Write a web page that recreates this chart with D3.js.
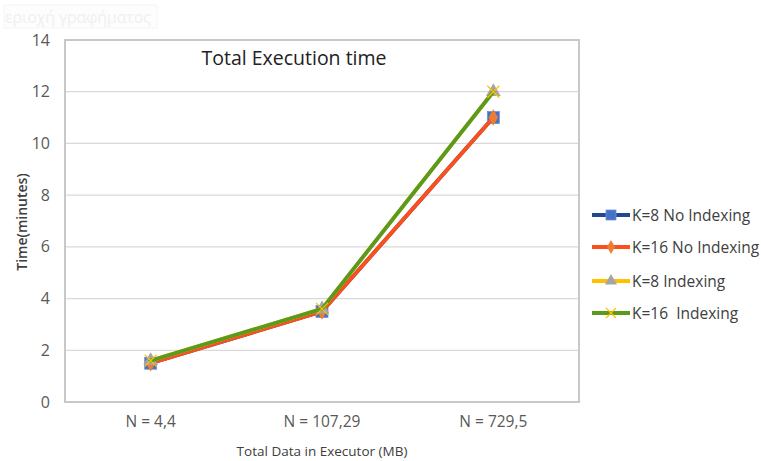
<!DOCTYPE html>
<html>
<head>
<meta charset="utf-8">
<script src="https://cdn.jsdelivr.net/npm/d3@7"></script>
<style>
  html, body { margin: 0; padding: 0; background: #fff; }
  svg { display: block; font-family: "Open Sans", "Liberation Sans", sans-serif; }
  .legend-label { white-space: pre; }
</style>
</head>
<body>
<svg id="chart" width="761" height="461"></svg>
<script>
// Dataset sizes on the x axis
const categories = ["N = 4,4", "N = 107,29", "N = 729,5"];
// Execution time in minutes per configuration
const k8NoIndexing  = [1.5, 3.5, 11];
const k16NoIndexing = [1.5, 3.5, 11];
const k8Indexing    = [1.6, 3.6, 12];
const k16Indexing   = [1.6, 3.6, 12];
const yTicks = [0, 2, 4, 6, 8, 10, 12, 14];
const seriesNames = ["K=8 No Indexing", "K=16 No Indexing", "K=8 Indexing", "K=16  Indexing"];

const series = [
  { name: seriesNames[0], values: k8NoIndexing,  line: "#24488f", marker: "square",   mfill: "#4472c4" },
  { name: seriesNames[1], values: k16NoIndexing, line: "#fb4f1c", marker: "diamond",  mfill: "#ed7d31" },
  { name: seriesNames[2], values: k8Indexing,    line: "#ffc000", marker: "triangle", mfill: "#a5a5a5" },
  { name: seriesNames[3], values: k16Indexing,   line: "#5a9a1e", marker: "cross",    mfill: "#ffc000" }
];

const svg = d3.select("#chart");
const plot = { left: 65, right: 579, top: 40, bottom: 402 };

const x = d3.scaleBand().domain(categories).range([plot.left, plot.right]);
const y = d3.scaleLinear().domain([0, 14]).range([plot.bottom, plot.top]);
const cx = c => x(c) + x.bandwidth() / 2;

// faint chart-area hint in the corner
svg.append("rect").attr("x", 4).attr("y", 5).attr("width", 153).attr("height", 23)
  .attr("fill", "#fdfdfd").attr("stroke", "#f5f5f5");
svg.append("text").attr("x", 5).attr("y", 23).attr("font-size", 16)
  .attr("textLength", 146).attr("fill", "#f0f0f0").text("εριοχή γραφήματος");

// horizontal gridlines
svg.append("g").selectAll("line").data(yTicks).join("line")
  .attr("x1", plot.left).attr("x2", plot.right)
  .attr("y1", d => y(d)).attr("y2", d => y(d))
  .attr("stroke", "#d9d9d9").attr("stroke-width", 1.3);

// plot border
svg.append("rect")
  .attr("x", plot.left).attr("y", plot.top)
  .attr("width", plot.right - plot.left).attr("height", plot.bottom - plot.top)
  .attr("fill", "none").attr("stroke", "#c8c8c8").attr("stroke-width", 2);

// y axis labels
const yAxis = d3.axisLeft(y).tickValues(yTicks).tickSize(0).tickPadding(15);
const gy = svg.append("g").attr("transform", `translate(${plot.left},0)`).call(yAxis);
gy.select(".domain").remove();
gy.selectAll("text").attr("font-size", 16).attr("fill", "#595959")
  .attr("font-family", "'Open Sans', sans-serif");

// x axis labels
const xAxis = d3.axisBottom(x).tickSize(0).tickPadding(14);
const gx = svg.append("g").attr("transform", `translate(0,${plot.bottom})`).call(xAxis);
gx.select(".domain").remove();
gx.selectAll("text").attr("font-size", 15.5).attr("fill", "#595959")
  .attr("font-family", "'Open Sans', sans-serif");

// titles
svg.append("text").attr("x", 294).attr("y", 65).attr("text-anchor", "middle")
  .attr("font-size", 19.5).attr("fill", "#222").text("Total Execution time");
svg.append("text").attr("x", 322).attr("y", 456).attr("text-anchor", "middle")
  .attr("font-size", 13.5).attr("fill", "#404040").text("Total Data in Executor (MB)");
svg.append("text").attr("transform", "translate(27,222) rotate(-90)")
  .attr("text-anchor", "middle").attr("font-size", 14).attr("font-weight", 600)
  .attr("fill", "#404040").text("Time(minutes)");

function drawMarker(g, type, fill, size) {
  const s = size;
  if (type === "square") {
    g.append("rect").attr("x", -s).attr("y", -s).attr("width", 2 * s).attr("height", 2 * s)
      .attr("fill", fill).attr("stroke", "#6f93d6").attr("stroke-width", 0.8);
  } else if (type === "diamond") {
    g.append("path").attr("d", d3.symbol(d3.symbolDiamond, s * s * 2.2)())
      .attr("fill", fill);
  } else if (type === "triangle") {
    g.append("path").attr("d", d3.symbol(d3.symbolTriangle, s * s * 2.6)())
      .attr("fill", fill);
  } else if (type === "cross") {
    g.append("path").attr("d", `M${-s},${-s}L${s},${s}M${-s},${s}L${s},${-s}`)
      .attr("stroke", fill).attr("stroke-width", 1.2).attr("fill", "none");
  }
}

const line = d3.line().x((d, i) => cx(categories[i])).y(d => y(d));

// lines and markers, drawn series by series
series.forEach(s => {
  svg.append("path").datum(s.values).attr("d", line)
    .attr("fill", "none").attr("stroke", s.line).attr("stroke-width", 3.8)
    .attr("stroke-linejoin", "round").attr("stroke-linecap", "round");
  s.values.forEach((v, i) => {
    const g = svg.append("g").attr("transform", `translate(${cx(categories[i])},${y(v)})`);
    drawMarker(g, s.marker, s.mfill, 6);
  });
});

// legend
const legendY = [215, 247, 281, 313];
series.forEach((s, i) => {
  const g = svg.append("g").attr("transform", `translate(592,${legendY[i]})`);
  g.append("line").attr("x1", 0).attr("x2", 38).attr("y1", 0).attr("y2", 0)
    .attr("stroke", s.line).attr("stroke-width", 4);
  const m = g.append("g").attr("transform", "translate(19,0)");
  drawMarker(m, s.marker, s.mfill, 5);
  g.append("text").attr("class", "legend-label").attr("x", 40).attr("y", 5.5)
    .attr("font-size", 15.5).attr("fill", "#404040").text(s.name);
});
</script>
</body>
</html>
